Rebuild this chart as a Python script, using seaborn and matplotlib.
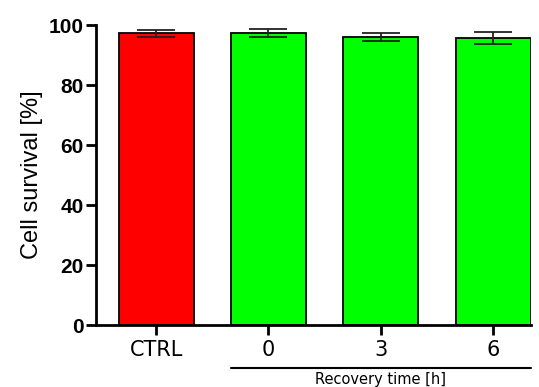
import matplotlib
matplotlib.use("Agg")
import matplotlib.pyplot as plt
import matplotlib.transforms as mtransforms
import seaborn as sns
import pandas as pd

# values
groups = ["CTRL", "0", "3", "6"]
survival = [97.3, 97.4, 96.0, 95.7]
sem = [1.1, 1.2, 1.4, 2.0]
bar_colors = ["#ff0000", "#00ff00", "#00ff00", "#00ff00"]

df = pd.DataFrame({"group": groups, "survival": survival})

sns.set_style("ticks")
plt.rcParams["text.color"] = "black"
plt.rcParams["axes.labelcolor"] = "black"
plt.rcParams["xtick.color"] = "black"
plt.rcParams["ytick.color"] = "black"

fig = plt.figure(figsize=(5.39, 3.87), dpi=100)
ax = fig.add_axes([0.178, 0.160, 0.807, 0.775])

sns.barplot(data=df, x="group", y="survival", hue="group", palette=bar_colors,
            saturation=1, width=0.667, edgecolor="black", linewidth=1.3,
            legend=False, errorbar=None, ax=ax)

ax.errorbar(range(len(groups)), survival, yerr=sem, fmt="none", ecolor="#222222",
            elinewidth=1.3, capsize=14, capthick=1.3, zorder=5)

ax.set_ylim(0, 100)
ax.set_xlim(-0.535, 3.335)
ax.set_yticks([0, 20, 40, 60, 80, 100])
ax.set_ylabel("Cell survival [%]", fontsize=17, family="Liberation Sans", labelpad=4)
ax.set_xlabel("")

for lab in ax.get_yticklabels():
    lab.set_fontfamily("Liberation Sans")
    lab.set_fontweight("bold")
    lab.set_fontsize(15)
for lab in ax.get_xticklabels():
    lab.set_fontfamily("DejaVu Sans")
    lab.set_fontsize(15)

ax.tick_params(axis="both", direction="out", length=7, width=2, color="black", pad=2)
ax.tick_params(axis="x", pad=4)
for side in ["left", "bottom"]:
    ax.spines[side].set_linewidth(2)
    ax.spines[side].set_color("black")
sns.despine(ax=ax)

# bracket under the recovery-time groups
trans = mtransforms.blended_transform_factory(ax.transData, ax.transAxes)
ax.plot([0.667, 3.333], [-0.143, -0.143], color="black", lw=1.5,
        transform=trans, clip_on=False)
ax.text(2.0, -0.158, "Recovery time [h]", transform=trans, ha="center", va="top",
        fontsize=10.5, family="DejaVu Sans")

fig.savefig("out.png", dpi=100)
